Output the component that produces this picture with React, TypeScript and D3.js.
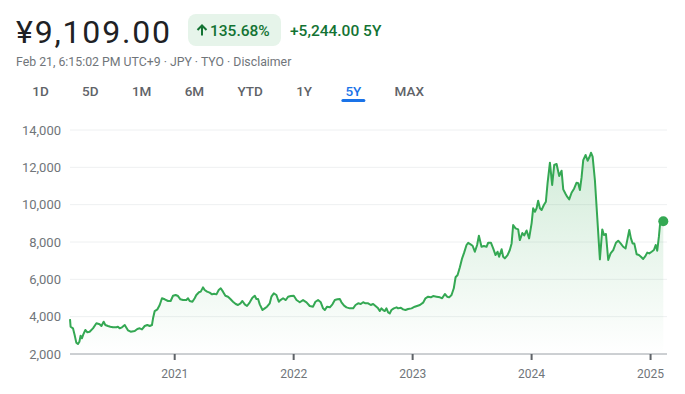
import React, { useEffect, useRef } from 'react';
import * as d3 from 'd3';

// time as decimal years, price in JPY
const dates = [
  2020.120, 2020.125, 2020.145, 2020.159, 2020.173, 2020.187, 2020.199, 2020.209, 2020.220, 2020.232,
  2020.249, 2020.266, 2020.285, 2020.313, 2020.342, 2020.369, 2020.384, 2020.403, 2020.417, 2020.439,
  2020.459, 2020.481, 2020.510, 2020.523, 2020.537, 2020.557, 2020.580, 2020.594, 2020.607, 2020.630,
  2020.664, 2020.686, 2020.706, 2020.725, 2020.748, 2020.770, 2020.790, 2020.809, 2020.818, 2020.832,
  2020.855, 2020.874, 2020.893, 2020.916, 2020.944, 2020.966, 2020.986, 2021.008, 2021.028, 2021.048,
  2021.070, 2021.098, 2021.112, 2021.126, 2021.149, 2021.168, 2021.182, 2021.204, 2021.219, 2021.238,
  2021.252, 2021.272, 2021.294, 2021.314, 2021.331, 2021.351, 2021.370, 2021.387, 2021.406, 2021.426,
  2021.448, 2021.468, 2021.490, 2021.513, 2021.532, 2021.553, 2021.569, 2021.589, 2021.608, 2021.631,
  2021.653, 2021.673, 2021.687, 2021.701, 2021.715, 2021.738, 2021.757, 2021.776, 2021.799, 2021.813,
  2021.833, 2021.855, 2021.875, 2021.889, 2021.911, 2021.934, 2021.953, 2021.976, 2022.001, 2022.024,
  2022.051, 2022.079, 2022.108, 2022.135, 2022.163, 2022.183, 2022.205, 2022.228, 2022.247, 2022.262,
  2022.281, 2022.304, 2022.326, 2022.346, 2022.368, 2022.388, 2022.402, 2022.424, 2022.444, 2022.472,
  2022.500, 2022.520, 2022.542, 2022.564, 2022.584, 2022.604, 2022.626, 2022.648, 2022.668, 2022.688,
  2022.710, 2022.724, 2022.738, 2022.752, 2022.766, 2022.780, 2022.794, 2022.808, 2022.822, 2022.842,
  2022.865, 2022.878, 2022.901, 2022.920, 2022.940, 2022.962, 2022.991, 2023.018, 2023.061, 2023.088,
  2023.108, 2023.130, 2023.153, 2023.172, 2023.201, 2023.229, 2023.248, 2023.271, 2023.290, 2023.307,
  2023.327, 2023.346, 2023.361, 2023.378, 2023.397, 2023.416, 2023.433, 2023.453, 2023.467, 2023.487,
  2023.504, 2023.523, 2023.542, 2023.557, 2023.579, 2023.599, 2023.621, 2023.635, 2023.658, 2023.677,
  2023.697, 2023.714, 2023.727, 2023.748, 2023.761, 2023.775, 2023.798, 2023.817, 2023.832, 2023.845,
  2023.865, 2023.887, 2023.901, 2023.922, 2023.938, 2023.958, 2023.979, 2024.000, 2024.013, 2024.028,
  2024.042, 2024.055, 2024.070, 2024.084, 2024.103, 2024.120, 2024.134, 2024.154, 2024.173, 2024.190,
  2024.210, 2024.232, 2024.252, 2024.266, 2024.286, 2024.299, 2024.316, 2024.336, 2024.358, 2024.378,
  2024.392, 2024.406, 2024.420, 2024.434, 2024.454, 2024.471, 2024.490, 2024.499, 2024.513, 2024.532,
  2024.552, 2024.574, 2024.594, 2024.608, 2024.625, 2024.644, 2024.664, 2024.686, 2024.709, 2024.728,
  2024.748, 2024.770, 2024.790, 2024.807, 2024.821, 2024.835, 2024.849, 2024.863, 2024.883, 2024.902,
  2024.919, 2024.938, 2024.953, 2024.972, 2024.989, 2025.009, 2025.028, 2025.043, 2025.056, 2025.070,
  2025.079, 2025.093, 2025.107
];

const prices = [
  3870, 3460, 3375, 3020, 2610, 2535, 2660, 2980, 2840, 3050,
  3285, 3160, 3195, 3375, 3645, 3590, 3500, 3730, 3555, 3500,
  3460, 3430, 3430, 3460, 3375, 3430, 3555, 3410, 3270, 3195,
  3230, 3340, 3375, 3320, 3500, 3555, 3500, 3555, 3910, 4300,
  4395, 4625, 4985, 4930, 4840, 4840, 5120, 5160, 5105, 4930,
  4890, 4890, 4985, 4840, 4800, 4985, 5160, 5305, 5340, 5570,
  5430, 5340, 5285, 5195, 5230, 5195, 5430, 5520, 5340, 5120,
  5070, 4945, 4800, 4680, 4625, 4715, 4840, 4660, 4570, 4770,
  5015, 5120, 4945, 4945, 4660, 4355, 4445, 4535, 4715, 5070,
  5250, 5160, 4800, 4890, 4985, 4890, 5070, 5105, 5120, 4890,
  4770, 4890, 4770, 4570, 4535, 4800, 4890, 4770, 4445, 4355,
  4535, 4500, 4660, 4890, 4930, 4945, 4770, 4590, 4500, 4445,
  4445, 4625, 4715, 4680, 4770, 4715, 4715, 4625, 4680, 4570,
  4445, 4300, 4445, 4355, 4300, 4445, 4230, 4175, 4355, 4445,
  4500, 4445, 4480, 4390, 4355, 4410, 4445, 4535, 4625, 4750,
  4985, 5070, 5035, 5105, 5070, 5035, 4985, 5215, 5070, 5035,
  5160, 5520, 6110, 6230, 6645, 7125, 7430, 7840, 7960, 7875,
  7800, 7480, 7840, 8335, 7745, 7785, 7745, 7960, 7960, 7660,
  7300, 7480, 7210, 7610, 7210, 7125, 7300, 7570, 7925, 8910,
  8730, 8675, 8105, 8480, 8350, 8620, 8195, 9000, 9805, 9620,
  9805, 10215, 9805, 9715, 9980, 10160, 11145, 12250, 11055, 12125,
  12180, 11535, 11820, 10820, 10570, 10425, 10285, 10640, 10870, 11175,
  11145, 10785, 11460, 12390, 12660, 12355, 12605, 12785, 12570, 11320,
  9300, 7070, 8675, 8375, 8430, 7035, 7390, 7570, 7960, 8070,
  7925, 7745, 7660, 8195, 8640, 8195, 7925, 7925, 7340, 7300,
  7210, 7090, 7210, 7430, 7390, 7480, 7570, 7840, 7535, 8285,
  8910, 9000, 9109
];

const yTicks = [2000, 4000, 6000, 8000, 10000, 12000, 14000];
const xTicks = [2021, 2022, 2023, 2024, 2025];
const ranges = ['1D', '5D', '1M', '6M', 'YTD', '1Y', '5Y', 'MAX'];
const activeRange = '5Y';

const price = '¥9,109.00';
const changePct = '135.68%';
const changeAbs = '+5,244.00 5Y';
const subtitle = 'Feb 21, 6:15:02 PM UTC+9 · JPY · TYO · Disclaimer';

const W = 685;
const H = 394;
const FONT = 'Roboto, "Noto Sans", sans-serif';

function App() {
  const svgRef = useRef(null);

  useEffect(() => {
    const svg = d3.select(svgRef.current);
    svg.selectAll('*').remove();

    const left = 70, right = 663.3, top = 130, bottom = 354;

    const x = d3.scaleLinear().domain([dates[0], dates[dates.length - 1]]).range([left, right]);
    const y = d3.scaleLinear().domain([2000, 14000]).range([bottom, top]);
    const data = dates.map((d, i) => ({ t: d, v: prices[i] }));

    // header
    svg.append('text')
      .attr('x', 16).attr('y', 43)
      .attr('font-family', FONT).attr('font-size', 32)
      .attr('fill', '#202124')
      .attr('textLength', 154).attr('lengthAdjust', 'spacing')
      .text(price);

    svg.append('rect')
      .attr('x', 188).attr('y', 14).attr('width', 93).attr('height', 32)
      .attr('rx', 8).attr('fill', '#e6f4ea');

    // up arrow
    svg.append('path')
      .attr('d', 'M202,35.5V25.5M197.5,30L202,25.5L206.5,30')
      .attr('fill', 'none')
      .attr('stroke', '#137333')
      .attr('stroke-width', 2);

    svg.append('text')
      .attr('x', 210).attr('y', 35.5)
      .attr('font-family', FONT).attr('font-size', 15.5).attr('font-weight', 500)
      .attr('fill', '#137333')
      .text(changePct);

    svg.append('text')
      .attr('x', 290).attr('y', 35.5)
      .attr('font-family', FONT).attr('font-size', 15.5).attr('font-weight', 500)
      .attr('fill', '#137333')
      .text(changeAbs);

    svg.append('text')
      .attr('x', 16).attr('y', 66)
      .attr('font-family', FONT).attr('font-size', 12.3)
      .attr('fill', '#70757a')
      .text(subtitle);

    // range tabs
    let tx = 32.3;
    ranges.forEach(r => {
      const t = svg.append('text')
        .attr('x', tx).attr('y', 95.5)
        .attr('font-family', FONT).attr('font-size', 13.5).attr('font-weight', 500)
        .attr('fill', r === activeRange ? '#1a73e8' : '#5f6368')
        .text(r);
      const w = (t.node() as SVGTextElement).getComputedTextLength();
      if (r === activeRange) {
        svg.append('rect')
          .attr('x', tx + w / 2 - 12).attr('y', 99).attr('width', 24).attr('height', 3)
          .attr('rx', 1.5).attr('fill', '#1a73e8');
      }
      tx += w + 33.3;
    });

    // grid
    svg.append('g')
      .selectAll('line')
      .data(yTicks.slice(1))
      .enter()
      .append('line')
      .attr('x1', left).attr('x2', 667)
      .attr('y1', d => y(d)).attr('y2', d => y(d))
      .attr('stroke', '#eef0f1').attr('stroke-width', 1);

    svg.append('g')
      .selectAll('text')
      .data(yTicks)
      .enter()
      .append('text')
      .attr('x', 61).attr('y', d => y(d))
      .attr('dy', '0.35em')
      .attr('text-anchor', 'end')
      .attr('font-family', FONT).attr('font-size', 13)
      .attr('fill', '#70757a')
      .text(d => d3.format(',')(d));

    // area + line
    const grad = svg.append('defs').append('linearGradient')
      .attr('id', 'areaFill')
      .attr('gradientUnits', 'userSpaceOnUse')
      .attr('x1', 0).attr('x2', 0)
      .attr('y1', y(d3.max(prices))).attr('y2', bottom);
    grad.append('stop').attr('offset', '0%').attr('stop-color', '#34a853').attr('stop-opacity', 0.22);
    grad.append('stop').attr('offset', '100%').attr('stop-color', '#34a853').attr('stop-opacity', 0);

    const area = d3.area<any>()
      .x(d => x(d.t))
      .y0(bottom)
      .y1(d => y(d.v));

    svg.append('path')
      .datum(data)
      .attr('d', area)
      .attr('fill', 'url(#areaFill)');

    const line = d3.line<any>()
      .x(d => x(d.t))
      .y(d => y(d.v));

    svg.append('path')
      .datum(data)
      .attr('d', line)
      .attr('fill', 'none')
      .attr('stroke', '#34a853')
      .attr('stroke-width', 2)
      .attr('stroke-linejoin', 'round');

    const last = data[data.length - 1];
    svg.append('circle')
      .attr('cx', x(last.t)).attr('cy', y(last.v))
      .attr('r', 5)
      .attr('fill', '#34a853');

    // x axis
    svg.append('line')
      .attr('x1', left).attr('x2', 667)
      .attr('y1', bottom).attr('y2', bottom)
      .attr('stroke', '#9aa0a6').attr('stroke-width', 1);

    const xt = svg.append('g').selectAll('g')
      .data(xTicks)
      .enter()
      .append('g')
      .attr('transform', d => `translate(${x(d)},0)`);

    xt.append('line')
      .attr('y1', bottom).attr('y2', bottom + 6)
      .attr('stroke', '#5f6368').attr('stroke-width', 2);

    xt.append('text')
      .attr('y', 378)
      .attr('text-anchor', 'middle')
      .attr('font-family', FONT).attr('font-size', 12)
      .attr('fill', '#70757a')
      .text(d => String(d));
  }, []);

  return (
    <svg
      ref={svgRef}
      width={W}
      height={H}
      style={{ position: 'absolute', left: 0, top: 0, background: '#fff' }}
    ></svg>
  );
}

export default App;
